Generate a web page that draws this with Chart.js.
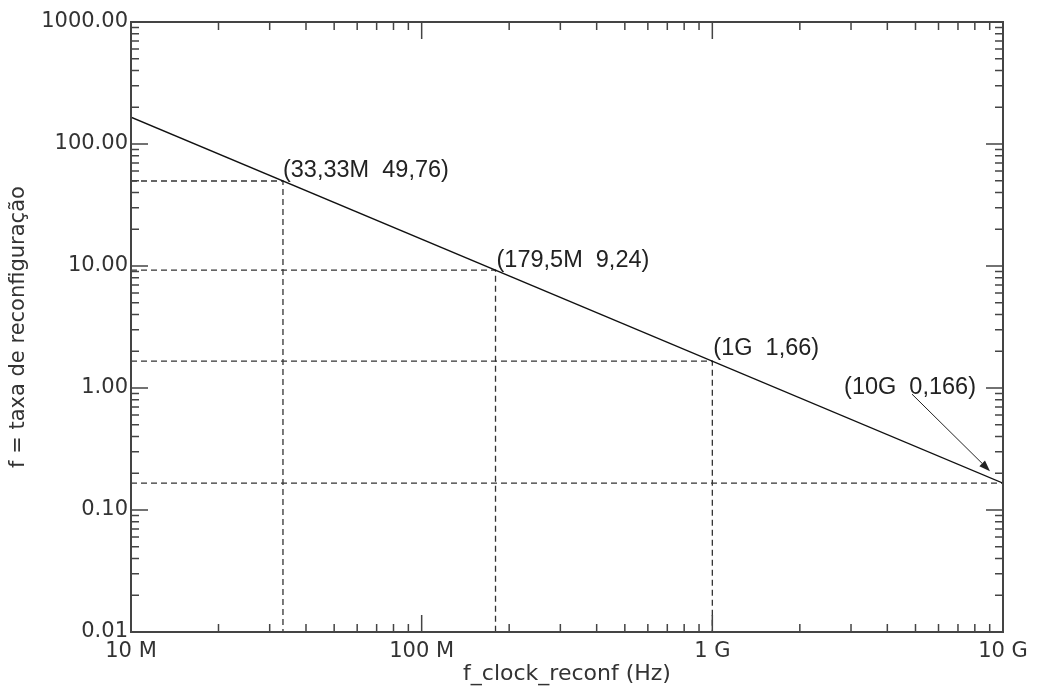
<!DOCTYPE html>
<html><head><meta charset="utf-8">
<script src="https://cdn.jsdelivr.net/npm/chart.js@4.4.1/dist/chart.umd.min.js"></script>
<style>html,body{margin:0;padding:0;background:#fff}</style>
</head><body>
<canvas id="c" width="1041" height="690"></canvas>
<script>
// ---- data ----
const lineX = [1e7, 1e10];
const lineY = [166, 0.166];
const markX = [33.33e6, 179.5e6, 1e9, 1e10];
const markY = [49.76, 9.24, 1.66, 0.166];
const markLabels = ['(33,33M  49,76)', '(179,5M  9,24)', '(1G  1,66)', '(10G  0,166)'];
const xTickValues = [1e7, 1e8, 1e9, 1e10];
const xTickLabels = ['10 M', '100 M', '1 G', '10 G'];
const yTickValues = [0.01, 0.1, 1, 10, 100, 1000];
const yTickLabels = ['0.01', '0.10', '1.00', '10.00', '100.00', '1000.00'];
const xTitle = 'f_clock_reconf (Hz)';
const yTitle = 'f = taxa de reconfiguração';

// ---- styles ----
const labelStyle = [
  {dx: 0, dy: -4, align: 'left'},
  {dx: 1, dy: -3, align: 'left'},
  {dx: 1, dy: -6, align: 'left'},
  {dx: -27, dy: -89, align: 'right', arrow: {sx: -91, sy: -89, ex: -13, ey: -12}}
];
const tickFont = {family: 'DejaVu Sans', size: 21};
const xTitleFont = {family: 'DejaVu Sans', size: 22};
const yTitleFont = {family: 'DejaVu Sans', size: 21};

const datasets = [{
  data: lineX.map((v, i) => ({x: v, y: lineY[i]})),
  borderColor: '#111', borderWidth: 1.4, pointRadius: 0, fill: false, tension: 0
}];
markX.forEach((mx, i) => {
  const pts = [{x: xTickValues[0], y: markY[i]}, {x: mx, y: markY[i]}];
  if (mx < xTickValues[xTickValues.length - 1]) pts.push({x: mx, y: yTickValues[0]});
  datasets.push({data: pts, borderColor: '#333', borderWidth: 1.3, borderDash: [6, 4], pointRadius: 0, fill: false, tension: 0});
});

const framePlugin = {
  id: 'frame',
  afterDatasetsDraw(chart) {
    const {ctx, chartArea: a, scales: {x, y}} = chart;
    const majorLen = 17, minorLen = 8;
    ctx.save();
    ctx.strokeStyle = '#444';
    ctx.lineWidth = 1.5;
    ctx.beginPath();
    yTickValues.forEach((v, i) => {
      const py = y.getPixelForValue(v);
      ctx.moveTo(a.left, py); ctx.lineTo(a.left + majorLen, py);
      ctx.moveTo(a.right, py); ctx.lineTo(a.right - majorLen, py);
      if (i < yTickValues.length - 1) {
        for (let k = 2; k <= 9; k++) {
          const pm = y.getPixelForValue(v * k);
          ctx.moveTo(a.left, pm); ctx.lineTo(a.left + minorLen, pm);
          ctx.moveTo(a.right, pm); ctx.lineTo(a.right - minorLen, pm);
        }
      }
    });
    xTickValues.forEach((v, i) => {
      const px = x.getPixelForValue(v);
      ctx.moveTo(px, a.bottom); ctx.lineTo(px, a.bottom - majorLen);
      ctx.moveTo(px, a.top); ctx.lineTo(px, a.top + majorLen);
      if (i < xTickValues.length - 1) {
        for (let k = 2; k <= 9; k++) {
          const pm = x.getPixelForValue(v * k);
          ctx.moveTo(pm, a.bottom); ctx.lineTo(pm, a.bottom - minorLen);
          ctx.moveTo(pm, a.top); ctx.lineTo(pm, a.top + minorLen);
        }
      }
    });
    ctx.stroke();
    ctx.lineWidth = 2;
    ctx.strokeRect(a.left, a.top, a.right - a.left, a.bottom - a.top);
    ctx.restore();
  },
  afterDraw(chart) {
    const {ctx, scales: {x, y}} = chart;
    ctx.save();
    ctx.font = '23.5px "Liberation Sans", Arial, sans-serif';
    ctx.fillStyle = '#222';
    ctx.textBaseline = 'alphabetic';
    markX.forEach((mx, i) => {
      const px = x.getPixelForValue(mx), py = y.getPixelForValue(markY[i]);
      const s = labelStyle[i];
      ctx.textAlign = s.align;
      ctx.fillText(markLabels[i], px + s.dx, py + s.dy);
      if (s.arrow) {
        const x0 = px + s.arrow.sx, y0 = py + s.arrow.sy, x1 = px + s.arrow.ex, y1 = py + s.arrow.ey;
        const ang = Math.atan2(y1 - y0, x1 - x0);
        const hl = 11, hw = 4;
        ctx.strokeStyle = '#222'; ctx.lineWidth = 1;
        ctx.beginPath(); ctx.moveTo(x0, y0);
        ctx.lineTo(x1 - hl * Math.cos(ang), y1 - hl * Math.sin(ang)); ctx.stroke();
        ctx.beginPath();
        ctx.moveTo(x1, y1);
        ctx.lineTo(x1 - hl * Math.cos(ang) + hw * Math.sin(ang), y1 - hl * Math.sin(ang) - hw * Math.cos(ang));
        ctx.lineTo(x1 - hl * Math.cos(ang) - hw * Math.sin(ang), y1 - hl * Math.sin(ang) + hw * Math.cos(ang));
        ctx.closePath(); ctx.fill();
      }
    });
    ctx.restore();
  }
};

new Chart(document.getElementById('c'), {
  type: 'line',
  data: {datasets},
  options: {
    responsive: false, animation: false, devicePixelRatio: 1,
    layout: {padding: {left: 0, right: 38, top: 22, bottom: 3}},
    plugins: {legend: {display: false}, tooltip: {enabled: false}},
    scales: {
      x: {
        type: 'logarithmic', min: xTickValues[0], max: xTickValues[xTickValues.length - 1],
        afterBuildTicks: s => { s.ticks = xTickValues.map(v => ({value: v})); },
        afterFit: s => { s.height = 55; },
        grid: {display: false, drawTicks: false}, border: {display: false},
        ticks: {autoSkip: false, maxRotation: 0, minRotation: 0, padding: 7, color: '#333', font: tickFont,
          callback: (v, i) => xTickLabels[i]},
        title: {display: true, text: xTitle, color: '#333', font: xTitleFont, padding: {top: 0, bottom: 0}}
      },
      y: {
        type: 'logarithmic', min: yTickValues[0], max: yTickValues[yTickValues.length - 1],
        afterBuildTicks: s => { s.ticks = yTickValues.map(v => ({value: v})); },
        afterFit: s => { s.width = 131; },
        grid: {display: false, drawTicks: false}, border: {display: false},
        ticks: {autoSkip: false, padding: 3, color: '#333', font: tickFont,
          callback: (v, i) => yTickLabels[i]},
        title: {display: true, text: yTitle, color: '#333', font: yTitleFont, padding: {top: 6, bottom: 0}}
      }
    }
  },
  plugins: [framePlugin]
});
</script>
</body></html>
